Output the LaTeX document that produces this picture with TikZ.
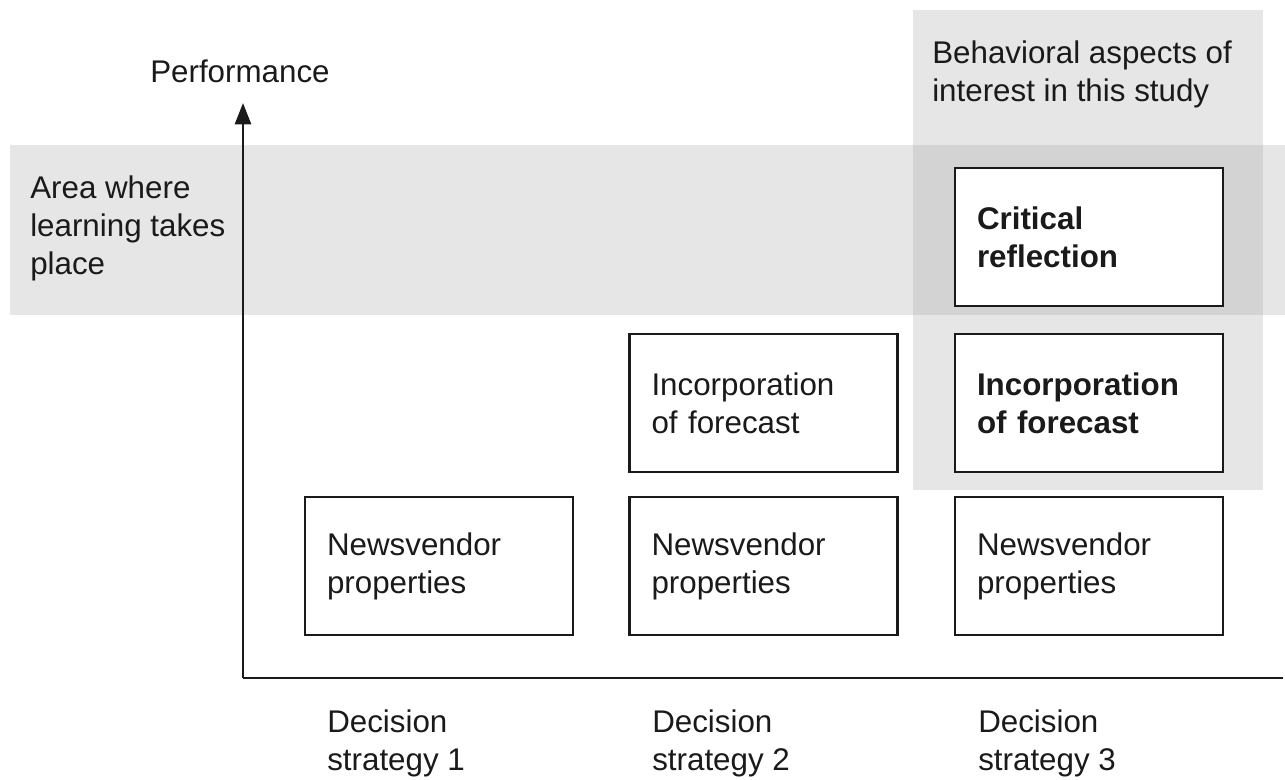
\documentclass[tikz,border=0pt]{standalone}
\usepackage{fontspec}
\setmainfont{Liberation Sans}
\usetikzlibrary{arrows.meta}
\definecolor{bandgray}{HTML}{E6E6E6}
\definecolor{overlapgray}{HTML}{D3D3D3}
\definecolor{ink}{HTML}{1A1A1A}
\begin{document}
\begin{tikzpicture}[x=0.75pt,y=-0.75pt,
  txt/.style={font=\fontsize{23.5}{28.5}\selectfont, text=ink, align=left, inner sep=0pt},
  stratbox/.style={draw=ink, line width=1.6pt, fill=white, rectangle,
    minimum width=201pt, minimum height=103.5pt, inner xsep=16.5pt, inner ysep=0pt,
    text width=168pt, align=left, font=\fontsize{23.5}{28.5}\selectfont, text=ink},
  keybox/.style={stratbox, line width=2.2pt, font=\fontsize{23.5}{28.5}\selectfont\bfseries},
  axis/.style={draw=ink, line width=2pt}]
\useasboundingbox (0,0) rectangle (1285,780);

% shaded regions: learning band and study column
\fill[bandgray] (10,145) rectangle (1285,315);
\fill[bandgray] (913,10) rectangle (1263,490);
\fill[overlapgray] (913,145) rectangle (1263,315);

% axes
\coordinate (origin) at (243,678);
\coordinate (ytip) at (243,103);
\coordinate (xend) at (1283,678);
\draw[axis, -{Triangle[length=16pt,width=12pt]}] (origin) -- (ytip);
\draw[axis] (origin) -- (xend);

% strategy boxes
\node[stratbox] (nv1) at (439,566) {Newsvendor\\properties};
\node[stratbox] (nv2) at (763.5,566) {Newsvendor\\properties};
\node[stratbox] (nv3) at (1089,566) {Newsvendor\\properties};
\node[stratbox] (fc2) at (763.5,403) {Incorporation\\of forecast};
\node[keybox] (fc3) at (1089,403) {Incorporation\\of forecast};
\node[keybox] (cr3) at (1089,237) {Critical\\reflection};

% labels
\node[txt, anchor=west] (perf) at (150,71) {Performance};
\node[txt, anchor=west] (study) at (932,74) {Behavioral aspects of\\interest in this study};
\node[txt, anchor=west] (learn) at (30,228) {Area where\\learning takes\\place};
\node[txt, anchor=west] (ds1) at (327,743) {Decision\\strategy 1};
\node[txt, anchor=west] (ds2) at (652,743) {Decision\\strategy 2};
\node[txt, anchor=west] (ds3) at (978,743) {Decision\\strategy 3};
\end{tikzpicture}
\end{document}
